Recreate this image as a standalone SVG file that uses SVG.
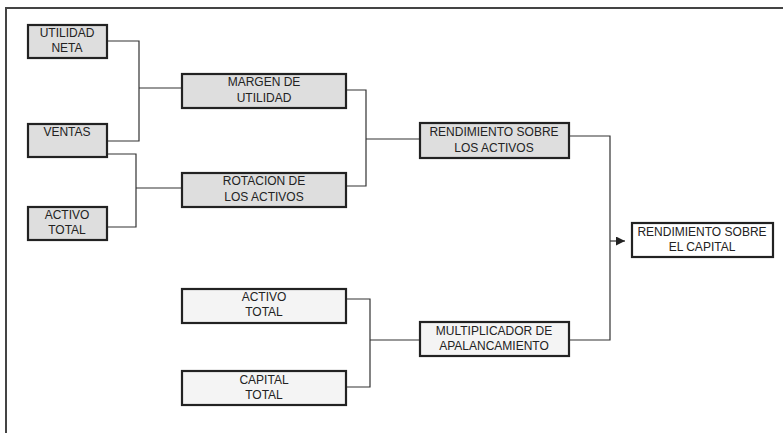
<svg xmlns="http://www.w3.org/2000/svg" width="783" height="433" viewBox="0 0 783 433">
  <style>
    .box { stroke: #222; stroke-width: 2.2; }
    .gray { fill: #dedede; }
    .light { fill: #f4f4f4; }
    .white { fill: #ffffff; }
    .label { font-family: "Liberation Sans", Arial, sans-serif; font-size: 12px; fill: #222; text-anchor: middle; }
    .wire { fill: none; stroke: #333; stroke-width: 1.2; }
    .frame { fill: none; stroke: #444; stroke-width: 2; }
  </style>
  <defs>
    <marker id="arrow" viewBox="0 0 10 10" refX="10" refY="5" markerWidth="9" markerHeight="9" markerUnits="userSpaceOnUse" orient="auto">
      <path d="M0,0 L10,5 L0,10 z" fill="#222"/>
    </marker>
  </defs>

  <rect width="783" height="433" fill="#ffffff"/>
  <!-- page frame -->
  <path class="frame" d="M6,433 V8 H783"/>

  <!-- connectors -->
  <g id="connectors">
    <path class="wire" d="M107,41 H139 V141 H107"/>
    <path class="wire" d="M139,88 H182"/>
    <path class="wire" d="M107,154 H136 V227 H107"/>
    <path class="wire" d="M136,188 H182"/>
    <path class="wire" d="M346,90 H366 V186 H346"/>
    <path class="wire" d="M366,139 H420"/>
    <path class="wire" d="M569,136 H610 V340 H569"/>
    <path class="wire" d="M610,241 H625" marker-end="url(#arrow)"/>
    <path class="wire" d="M346,299 H370 V387 H346"/>
    <path class="wire" d="M370,340 H420"/>
  </g>

  <g id="utilidad-neta">
    <rect class="box gray" x="28" y="25" width="79" height="33"/>
    <text class="label" x="67" y="37">UTILIDAD</text>
    <text class="label" x="67" y="52">NETA</text>
  </g>

  <g id="ventas">
    <rect class="box gray" x="28" y="124" width="79" height="33"/>
    <text class="label" x="67" y="136">VENTAS</text>
  </g>

  <g id="activo-total-1">
    <rect class="box gray" x="28" y="207" width="79" height="33"/>
    <text class="label" x="67" y="219">ACTIVO</text>
    <text class="label" x="67" y="234">TOTAL</text>
  </g>

  <g id="margen-utilidad">
    <rect class="box gray" x="182" y="74" width="164" height="34"/>
    <text class="label" x="264" y="86">MARGEN DE</text>
    <text class="label" x="264" y="102">UTILIDAD</text>
  </g>

  <g id="rotacion-activos">
    <rect class="box gray" x="182" y="173" width="164" height="34"/>
    <text class="label" x="264" y="185">ROTACION DE</text>
    <text class="label" x="264" y="201">LOS ACTIVOS</text>
  </g>

  <g id="rendimiento-activos">
    <rect class="box gray" x="420" y="123" width="149" height="35"/>
    <text class="label" x="494" y="136">RENDIMIENTO SOBRE</text>
    <text class="label" x="494" y="152">LOS ACTIVOS</text>
  </g>

  <g id="rendimiento-capital">
    <rect class="box white" x="632" y="223" width="141" height="34"/>
    <text class="label" x="702" y="236">RENDIMIENTO SOBRE</text>
    <text class="label" x="702" y="251">EL CAPITAL</text>
  </g>

  <g id="activo-total-2">
    <rect class="box light" x="182" y="289" width="164" height="34"/>
    <text class="label" x="264" y="301">ACTIVO</text>
    <text class="label" x="264" y="316">TOTAL</text>
  </g>

  <g id="capital-total">
    <rect class="box light" x="182" y="371" width="164" height="34"/>
    <text class="label" x="264" y="384">CAPITAL</text>
    <text class="label" x="264" y="399">TOTAL</text>
  </g>

  <g id="multiplicador">
    <rect class="box light" x="420" y="322" width="149" height="34"/>
    <text class="label" x="494" y="335">MULTIPLICADOR DE</text>
    <text class="label" x="494" y="350">APALANCAMIENTO</text>
  </g>
</svg>
